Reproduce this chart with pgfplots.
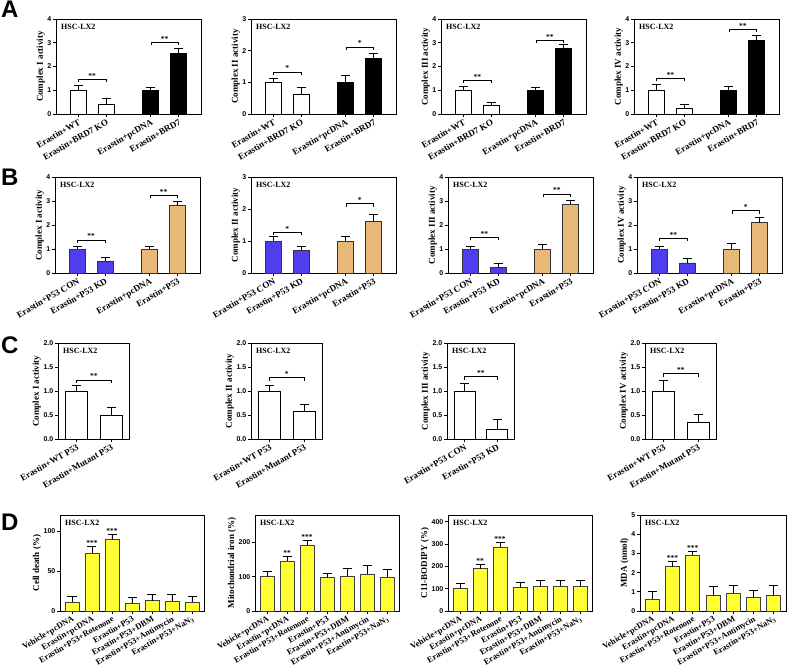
\documentclass[border=0pt]{standalone}
\usepackage{fontspec}
\setmainfont{Liberation Serif}
\newfontfamily\arial{Liberation Sans}
\usepackage{pgfplots}
\pgfplotsset{compat=1.18}
\usetikzlibrary{calc}
\definecolor{blueC}{RGB}{78,62,240}
\definecolor{tanC}{RGB}{232,184,120}
\definecolor{yelC}{RGB}{255,255,51}
\newcommand\fs[1]{\fontsize{#1}{#1}\selectfont}
\newcommand{\sig}[4]{%
  \draw[line width=0.6pt] ([yshift=-3pt]axis cs:#1,#3) -- (axis cs:#1,#3) -- (axis cs:#2,#3) -- ([yshift=-3pt]axis cs:#2,#3);
  \node[font=\bfseries\fs{7.5}, anchor=south, inner sep=0.8pt] at ($(axis cs:#1,#3)!0.5!(axis cs:#2,#3)$) {#4};}
\newcommand{\sigstar}[3]{\node[font=\bfseries\fs{7.5}, anchor=south, inner sep=0.8pt] at (axis cs:#1,#2) {#3};}
\newcommand{\hsc}{\node[anchor=north west, font=\bfseries\fs{8}, inner sep=0pt] at ([xshift=5pt,yshift=-5pt]rel axis cs:0,1) {HSC-LX2};}
\pgfplotsset{
  panel/.style={scale only axis, anchor=south west, ymin=0, clip=false,
    axis line style={line width=0.75pt},
    every tick/.style={black, line width=0.75pt}, major tick length=3pt,
    xtick pos=bottom, ytick pos=left, tick align=outside,
    /pgf/number format/assume math mode=true,
    yticklabel style={font=\arial\bfseries\fs{7}, inner sep=1.5pt},
    ylabel style={font=\bfseries\fs{9}, inner sep=1pt},
    xticklabel style={font=\bfseries\fs{9}, rotate=30, anchor=north east, inner sep=1pt},
  },
  abp/.style={panel, width=145pt, height=95pt, xmin=0.2, xmax=5.4, xtick={1,2,3.6,4.6}},
  abl/.style={xticklabels={Erastin+WT,Erastin+BRD7 KO,Erastin+pcDNA,Erastin+BRD7}},
  bbl/.style={xticklabels={Erastin+P53 CON,Erastin+P53 KD,Erastin+pcDNA,Erastin+P53}},
  cp/.style={panel, width=71pt, height=96pt, xmin=0.46, xmax=2.52, xtick={1,2}, ymax=2, ytick={0,0.5,1,1.5,2},
    yticklabel style={/pgf/number format/.cd, fixed, fixed zerofill, precision=1}},
  dp/.style={panel, width=144pt, height=96pt, xmin=0.4, xmax=7.6, xtick={1,...,7},
    xticklabels={Vehicle+pcDNA,Erastin+pcDNA,Erastin+P53+Rotenone,Erastin+P53,Erastin+P53+DBM,Erastin+P53+Antimycin,Erastin+P53+NaN\textsubscript{3}},
    xticklabel style={font=\bfseries\fs{8.5}}},
  bars/.style={ybar, bar shift=0pt, line width=0.75pt,
    error bars/y dir=plus, error bars/y explicit,
    error bars/error bar style={line width=0.75pt, black},
    error bars/error mark options={rotate=90, mark size=4.5pt, line width=0.75pt, black}},
}
\begin{document}
\begin{tikzpicture}
\path[use as bounding box] (0,0) rectangle (787pt,-667pt);
\node[font=\arial\bfseries\fs{24}, anchor=north west, inner sep=0pt] at (1pt,-1pt) {A};
\node[font=\arial\bfseries\fs{24}, anchor=north west, inner sep=0pt] at (1pt,-169pt) {B};
\node[font=\arial\bfseries\fs{24}, anchor=north west, inner sep=0pt] at (1pt,-337pt) {C};
\node[font=\arial\bfseries\fs{24}, anchor=north west, inner sep=0pt] at (1pt,-514pt) {D};

% ---------- Row A ----------
\begin{axis}[abp, abl, at={(56pt,-114pt)}, ymax=4, ytick={0,1,2,3,4}, ylabel={Complex I activity}]
\addplot[bars, fill=white, draw=black, bar width=16pt] coordinates {(1,1.0) +- (0,0.2) (2,0.42) +- (0,0.25)};
\addplot[bars, fill=black, draw=black, bar width=16pt] coordinates {(3.6,1.0) +- (0,0.13) (4.6,2.55) +- (0,0.2)};
\sig{1}{2}{1.47}{**}\sig{3.6}{4.6}{3.03}{**}\hsc
\end{axis}
\begin{axis}[abp, abl, at={(251pt,-114pt)}, ymax=3, ytick={0,1,2,3}, ylabel={Complex II activity}]
\addplot[bars, fill=white, draw=black, bar width=16pt] coordinates {(1,1.0) +- (0,0.12) (2,0.63) +- (0,0.2)};
\addplot[bars, fill=black, draw=black, bar width=16pt] coordinates {(3.6,1.0) +- (0,0.22) (4.6,1.75) +- (0,0.15)};
\sig{1}{2}{1.33}{*}\sig{3.6}{4.6}{2.12}{*}\hsc
\end{axis}
\begin{axis}[abp, abl, at={(441pt,-114pt)}, ymax=4, ytick={0,1,2,3,4}, ylabel={Complex III activity}]
\addplot[bars, fill=white, draw=black, bar width=16pt] coordinates {(1,1.0) +- (0,0.17) (2,0.37) +- (0,0.13)};
\addplot[bars, fill=black, draw=black, bar width=16pt] coordinates {(3.6,1.0) +- (0,0.13) (4.6,2.75) +- (0,0.2)};
\sig{1}{2}{1.43}{**}\sig{3.6}{4.6}{3.1}{**}\hsc
\end{axis}
\begin{axis}[abp, abl, at={(634pt,-114pt)}, ymax=4, ytick={0,1,2,3,4}, ylabel={Complex IV activity}]
\addplot[bars, fill=white, draw=black, bar width=16pt] coordinates {(1,1.0) +- (0,0.25) (2,0.22) +- (0,0.2)};
\addplot[bars, fill=black, draw=black, bar width=16pt] coordinates {(3.6,1.0) +- (0,0.18) (4.6,3.1) +- (0,0.22)};
\sig{1}{2}{1.5}{**}\sig{3.6}{4.6}{3.57}{**}\hsc
\end{axis}

% ---------- Row B ----------
\begin{axis}[abp, bbl, at={(55pt,-273pt)}, height=96pt, ymax=4, ytick={0,1,2,3,4}, ylabel={Complex I activity}]
\addplot[bars, fill=blueC, draw=black!80, bar width=16pt] coordinates {(1,1.0) +- (0,0.12) (2,0.5) +- (0,0.15)};
\addplot[bars, fill=tanC, draw=black!80, bar width=16pt] coordinates {(3.6,1.0) +- (0,0.13) (4.6,2.8) +- (0,0.18)};
\sig{1}{2}{1.38}{**}\sig{3.6}{4.6}{3.25}{**}\hsc
\end{axis}
\begin{axis}[abp, bbl, at={(251pt,-273pt)}, height=96pt, ymax=3, ytick={0,1,2,3}, ylabel={Complex II activity}]
\addplot[bars, fill=blueC, draw=black!80, bar width=16pt] coordinates {(1,1.0) +- (0,0.14) (2,0.7) +- (0,0.12)};
\addplot[bars, fill=tanC, draw=black!80, bar width=16pt] coordinates {(3.6,1.0) +- (0,0.15) (4.6,1.6) +- (0,0.22)};
\sig{1}{2}{1.27}{*}\sig{3.6}{4.6}{2.17}{*}\hsc
\end{axis}
\begin{axis}[abp, bbl, at={(448pt,-273pt)}, height=96pt, ymax=4, ytick={0,1,2,3,4}, ylabel={Complex III activity}]
\addplot[bars, fill=blueC, draw=black!80, bar width=16pt] coordinates {(1,1.0) +- (0,0.13) (2,0.22) +- (0,0.18)};
\addplot[bars, fill=tanC, draw=black!80, bar width=16pt] coordinates {(3.6,1.0) +- (0,0.2) (4.6,2.87) +- (0,0.17)};
\sig{1}{2}{1.5}{**}\sig{3.6}{4.6}{3.3}{**}\hsc
\end{axis}
\begin{axis}[abp, bbl, at={(637pt,-273pt)}, height=96pt, ymax=4, ytick={0,1,2,3,4}, ylabel={Complex IV activity}]
\addplot[bars, fill=blueC, draw=black!80, bar width=16pt] coordinates {(1,1.0) +- (0,0.13) (2,0.42) +- (0,0.18)};
\addplot[bars, fill=tanC, draw=black!80, bar width=16pt] coordinates {(3.6,1.0) +- (0,0.22) (4.6,2.1) +- (0,0.2)};
\sig{1}{2}{1.45}{**}\sig{3.6}{4.6}{2.6}{*}\hsc
\end{axis}

% ---------- Row C ----------
\begin{axis}[cp, at={(58pt,-439pt)}, ylabel={Complex I activity}, xticklabels={Erastin+WT P53,Erastin+Mutant P53}]
\addplot[bars, fill=white, draw=black, bar width=22pt] coordinates {(1,1.0) +- (0,0.12) (2,0.49) +- (0,0.17)};
\sig{1}{2}{1.23}{**}\hsc
\end{axis}
\begin{axis}[cp, at={(251pt,-439pt)}, ylabel={Complex II activity}, xticklabels={Erastin+WT P53,Erastin+Mutant P53}]
\addplot[bars, fill=white, draw=black, bar width=22pt] coordinates {(1,1.0) +- (0,0.11) (2,0.57) +- (0,0.16)};
\sig{1}{2}{1.28}{*}\hsc
\end{axis}
\begin{axis}[cp, at={(447pt,-439pt)}, width=67pt, ylabel={Complex III activity}, xticklabels={Erastin+P53 CON,Erastin+P53 KD}]
\addplot[bars, fill=white, draw=black, bar width=21pt] coordinates {(1,1.0) +- (0,0.16) (2,0.21) +- (0,0.2)};
\sig{1}{2}{1.3}{**}\hsc
\end{axis}
\begin{axis}[cp, at={(645pt,-439pt)}, ylabel={Complex IV activity}, xticklabels={Erastin+WT P53,Erastin+Mutant P53}]
\addplot[bars, fill=white, draw=black, bar width=22pt] coordinates {(1,1.0) +- (0,0.22) (2,0.35) +- (0,0.16)};
\sig{1}{2}{1.36}{**}\hsc
\end{axis}

% ---------- Row D ----------
\begin{axis}[dp, at={(60pt,-611pt)}, ymax=120, ytick={0,50,100}, ylabel={Cell death (\%)}]
\addplot[bars, fill=yelC, draw=black!75, bar width=14pt] coordinates {(1,11) +- (0,7) (2,72) +- (0,9) (3,89) +- (0,7) (4,10) +- (0,7) (5,13) +- (0,8) (6,12) +- (0,9) (7,11) +- (0,7)};
\sigstar{2}{81}{***}\sigstar{3}{96}{***}\hsc
\end{axis}
\begin{axis}[dp, at={(255pt,-611pt)}, ymax=280, ytick={0,100,200}, ylabel={Mitochondrial iron (\%)}]
\addplot[bars, fill=yelC, draw=black!75, bar width=14pt] coordinates {(1,100) +- (0,17) (2,145) +- (0,13) (3,190) +- (0,15) (4,97) +- (0,13) (5,102) +- (0,21) (6,108) +- (0,24) (7,99) +- (0,21)};
\sigstar{2}{158}{**}\sigstar{3}{205}{***}\hsc
\end{axis}
\begin{axis}[dp, at={(448pt,-611pt)}, ymax=430, ytick={0,100,200,300,400}, ylabel={C11-BODIPY (\%)}]
\addplot[bars, fill=yelC, draw=black!75, bar width=14pt] coordinates {(1,100) +- (0,25) (2,190) +- (0,20) (3,287) +- (0,20) (4,105) +- (0,25) (5,110) +- (0,25) (6,110) +- (0,25) (7,110) +- (0,25)};
\sigstar{2}{210}{**}\sigstar{3}{307}{***}\hsc
\end{axis}
\begin{axis}[dp, at={(640pt,-611pt)}, width=146pt, ymax=5, ytick={0,1,2,3,4,5}, ylabel={MDA (nmol)}]
\addplot[bars, fill=yelC, draw=black!75, bar width=14pt] coordinates {(1,0.6) +- (0,0.4) (2,2.3) +- (0,0.3) (3,2.9) +- (0,0.2) (4,0.8) +- (0,0.5) (5,0.9) +- (0,0.45) (6,0.7) +- (0,0.4) (7,0.8) +- (0,0.55)};
\sigstar{2}{2.6}{***}\sigstar{3}{3.1}{***}\hsc
\end{axis}
\end{tikzpicture}
\end{document}
